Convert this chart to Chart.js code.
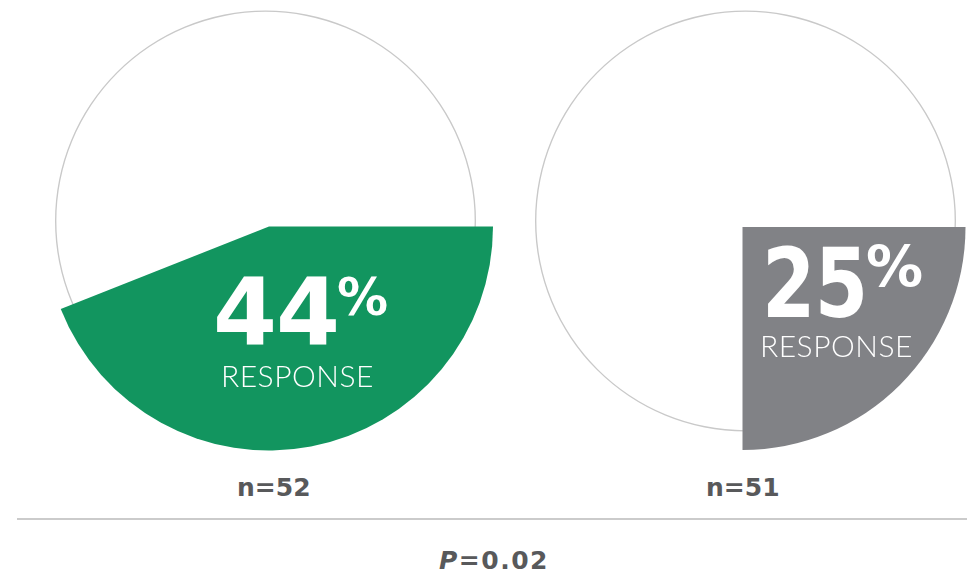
<!DOCTYPE html>
<html>
<head>
<meta charset="utf-8">
<script src="https://cdn.jsdelivr.net/npm/chart.js@4/dist/chart.umd.min.js"></script>
<style>
  html, body { margin: 0; padding: 0; background: #ffffff; }
  body { width: 967px; height: 574px; position: relative; overflow: hidden; }
  canvas { position: absolute; }
  .txt { position: absolute; white-space: nowrap; line-height: 1; transform-origin: 0 0; }
  .big { color: #ffffff; font-family: "DejaVu Sans", sans-serif; font-weight: 700; }
  .resp { color: #ffffff; font-family: Lato, "Open Sans", sans-serif; font-weight: 300; }
  .n { color: #58595b; font-family: "DejaVu Sans", sans-serif; font-weight: 700; }
  #rule { position: absolute; left: 17px; top: 518px; width: 950px; height: 2px; background: #cbcbcb; }
</style>
</head>
<body>
<canvas id="ring-0" width="441" height="442" style="left:45px;top:0px"></canvas>
<canvas id="ring-1" width="441" height="442" style="left:525px;top:0px"></canvas>
<canvas id="slice-0" width="460" height="459" style="left:39px;top:-3px"></canvas>
<canvas id="slice-1" width="461" height="460" style="left:512px;top:-3px"></canvas>
<div id="rule"></div>
<div id="labels"></div>
<script>
// --- DATA ---
const groups = ["Group A", "Group B"];
const responseRates = [44, 25];
const sampleSizes = [52, 51];
const pValue = "0.02";

// --- STYLE ---
const SLICE_COLORS = ["#12955f", "#818286"];
const RING_COLOR = "#c9c9c9";
const RING_RADIUS = 210.5;
const SLICE_RADIUS = [224, 223];

// text placement per group (baselines / tops in page px)
const LABEL_POS = [
  { numX: 213, numBase: 345, numSize: 92, numScale: 1, pctX: 337, pctTop: 278, pctSize: 51, respX: 221, respBase: 387, nX: 237 },
  { numX: 762, numBase: 317, numSize: 96, numScale: 0.8, pctX: 866, pctTop: 246, pctSize: 57, respX: 760, respBase: 357, nX: 706 }
];

const baseOptions = {
  responsive: false,
  animation: false,
  events: [],
  layout: { padding: 0 },
  plugins: { legend: { display: false }, tooltip: { enabled: false } }
};

// outline ring behind each pie
groups.forEach((g, i) => {
  new Chart(document.getElementById("ring-" + i), {
    type: "doughnut",
    data: {
      labels: [g],
      datasets: [{ data: [100], backgroundColor: [RING_COLOR], borderWidth: 0 }]
    },
    options: { ...baseOptions, radius: RING_RADIUS, cutout: "99.35%" }
  });
});

// response slice, starting at 3 o'clock
groups.forEach((g, i) => {
  new Chart(document.getElementById("slice-" + i), {
    type: "pie",
    data: {
      labels: ["Response", "No response"],
      datasets: [{
        data: [responseRates[i], 100 - responseRates[i]],
        backgroundColor: [SLICE_COLORS[i], "rgba(0,0,0,0)"],
        borderWidth: 0
      }]
    },
    options: { ...baseOptions, radius: SLICE_RADIUS[i], rotation: 90 }
  });
});

// --- LABELS ---
const labels = document.getElementById("labels");
function addText(cls, text, x, top, size, extra) {
  const el = document.createElement("div");
  el.className = "txt " + cls;
  el.style.left = x + "px";
  el.style.top = top + "px";
  el.style.fontSize = size + "px";
  if (extra) Object.assign(el.style, extra);
  el.innerHTML = text;
  labels.appendChild(el);
  return el;
}
// baseline offset from box top at line-height 1, and cap height
const DV_BASE = 0.846, DV_CAP = 0.729;
const LATO_BASE = 0.887;

groups.forEach((g, i) => {
  const p = LABEL_POS[i];
  addText("big", String(responseRates[i]), p.numX, p.numBase - DV_BASE * p.numSize, p.numSize,
    { letterSpacing: "-1px", transform: "scaleX(" + p.numScale + ")" });
  addText("big", "%", p.pctX, p.pctTop - (DV_BASE - DV_CAP) * p.pctSize, p.pctSize);
  addText("resp", "RESPONSE", p.respX, p.respBase - LATO_BASE * 30, 30, { letterSpacing: "0.5px" });
  addText("n", "n=" + sampleSizes[i], p.nX, 496 - DV_BASE * 25, 25);
});

addText("n", "<i>P</i>=" + pValue, 439, 569 - DV_BASE * 25, 25, { letterSpacing: "1.5px" });
</script>
</body>
</html>
